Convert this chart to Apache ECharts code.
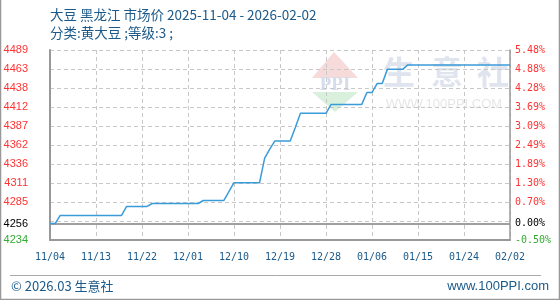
<!DOCTYPE html>
<html><head><meta charset="utf-8">
<script src="https://cdn.jsdelivr.net/npm/echarts@6/dist/echarts.min.js"></script>
<style>html,body{margin:0;padding:0;background:#fff}#c{width:560px;height:300px}</style>
</head><body><div id="c"></div>
<script>
const titleText = '大豆 黑龙江 市场价 2025-11-04 - 2026-02-02';
const subtitleText = '分类:黄大豆 ;等级:3 ;';
const footerLeft = '© 2026.03 生意社';
const footerRight = 'www.100PPI.com';

const dates = [
 '11/04','11/05','11/06','11/07','11/08','11/09','11/10','11/11','11/12','11/13','11/14','11/15','11/16','11/17','11/18','11/19','11/20','11/21','11/22','11/23','11/24','11/25','11/26','11/27','11/28','11/29','11/30',
 '12/01','12/02','12/03','12/04','12/05','12/06','12/07','12/08','12/09','12/10','12/11','12/12','12/13','12/14','12/15','12/16','12/17','12/18','12/19','12/20','12/21','12/22','12/23','12/24','12/25','12/26','12/27','12/28','12/29','12/30','12/31',
 '01/01','01/02','01/03','01/04','01/05','01/06','01/07','01/08','01/09','01/10','01/11','01/12','01/13','01/14','01/15','01/16','01/17','01/18','01/19','01/20','01/21','01/22','01/23','01/24','01/25','01/26','01/27','01/28','01/29','01/30','01/31',
 '02/01','02/02'
];

const prices = [
 4256,4256,4267,4267,4267,4267,4267,4267,4267,4267,4267,4267,4267,4267,4267,4279,4279,4279,4279,4279,4283,4283,4283,4283,4283,4283,4283,
 4283,4283,4283,4287,4287,4287,4287,4287,4299,4311,4311,4311,4311,4311,4311,4344,4356,4367,4367,4367,4367,4385,4404,4404,4404,4404,4404,4404,4416,4416,4416,
 4416,4416,4416,4416,4432,4432,4444,4444,4463,4463,4463,4463,4469,4469,4469,4469,4469,4469,4469,4469,4469,4469,4469,4469,4469,4469,4469,4469,4469,4469,4469,
 4469,4469
];

const axisMinPrice = 4234;
const axisMaxPrice = 4489;
const basePrice = 4256;
const priceTickLabels = ['4234','','4285','4311','4336','4362','4387','4412','4438','4463','4489'];
const pctTickLabels = ['-0.50%','','0.70%','1.30%','1.89%','2.49%','3.09%','3.69%','4.28%','4.88%','5.48%'];
const baseLabelLeft = '4256';
const baseLabelRight = '0.00%';

const span = axisMaxPrice - axisMinPrice;
const step = span / 10;
const RED = '#ff3333', GREEN = '#33aa33', BLUE_TXT = '#1b5a8a';
const idxOf = v => Math.round(v / step);
const tickColor = v => idxOf(v) === 0 ? GREEN : RED;
const dash = [4, 3];

const chart = echarts.init(document.getElementById('c'), null, {renderer: 'canvas'});
chart.setOption({
  animation: false,
  backgroundColor: '#fff',
  grid: {left: 50, right: 50, top: 50, bottom: 60, containLabel: false},
  xAxis: {
    type: 'category', data: dates, boundaryGap: false,
    axisLine: {show: true, lineStyle: {color: '#999', width: 2}},
    axisTick: {show: false},
    axisLabel: {interval: 8, color: BLUE_TXT, fontFamily: 'DejaVu Sans Mono', fontSize: 10, margin: 12},
    splitLine: {show: true, interval: 8, lineStyle: {color: '#c8c8c8', type: dash, width: 1}}
  },
  yAxis: [{
    type: 'value', min: 0, max: span, interval: step, position: 'left',
    axisLine: {show: true, lineStyle: {color: '#999', width: 2}},
    axisTick: {show: false},
    axisLabel: {margin: 22, fontFamily: 'Liberation Sans', fontSize: 11,
      formatter: v => priceTickLabels[idxOf(v)] || '', color: v => tickColor(v)},
    splitLine: {show: true, lineStyle: {color: '#c8c8c8', type: dash, width: 1}}
  }, {
    type: 'value', min: 0, max: span, interval: step, position: 'right',
    axisLine: {show: true, lineStyle: {color: '#999', width: 1.5}},
    axisTick: {show: false},
    axisLabel: {margin: 5, fontFamily: 'DejaVu Sans Mono', fontSize: 10,
      formatter: v => pctTickLabels[idxOf(v)] || '', color: v => tickColor(v)},
    splitLine: {show: false}
  }],
  graphic: [
    {type: 'text', left: 50, top: 8, z: 10, style: {text: titleText, fill: BLUE_TXT, font: '13.5px "Noto Sans CJK SC"'}},
    {type: 'text', left: 50, top: 26, z: 10, style: {text: subtitleText, fill: BLUE_TXT, font: '13.5px "Noto Sans CJK SC"'}},
    // watermark logo
    {type: 'polygon', z: -1, shape: {points: [[334,52],[312,78],[358,78]]}, style: {fill: '#f7dada'}},
    {type: 'polygon', z: -1, shape: {points: [[312,92],[358,92],[335,112]]}, style: {fill: '#d9f0dc'}},
    {type: 'text', z: -1, x: 335, y: 85, style: {text: 'PPI', fill: '#d5dceb', font: 'bold 19px "Liberation Serif"', align: 'center', verticalAlign: 'middle'}},
    {type: 'text', z: -1, x: 399, y: 72, style: {text: '生', fill: '#dfe4ee', font: 'bold 32px "Noto Sans CJK SC"', align: 'center', verticalAlign: 'middle'}},
    {type: 'text', z: -1, x: 447, y: 72, style: {text: '意', fill: '#dfe4ee', font: 'bold 32px "Noto Sans CJK SC"', align: 'center', verticalAlign: 'middle'}},
    {type: 'text', z: -1, x: 493, y: 72, style: {text: '社', fill: '#dfe4ee', font: 'bold 32px "Noto Sans CJK SC"', align: 'center', verticalAlign: 'middle'}},
    {type: 'text', z: -1, x: 444, y: 104, style: {text: 'WWW.100PPI.COM', fill: '#e6e6e6', font: '13px "Liberation Sans"', align: 'center', verticalAlign: 'middle'}},
    // footer
    {type: 'line', shape: {x1: 10, y1: 275.5, x2: 541, y2: 275.5}, style: {stroke: '#aaa', lineWidth: 1}},
    {type: 'text', x: 11, y: 286, style: {text: footerLeft, fill: BLUE_TXT, font: '13px "Noto Sans CJK SC"', verticalAlign: 'middle'}},
    {type: 'text', x: 549, y: 286, style: {text: footerRight, fill: BLUE_TXT, font: '13px "Liberation Sans"', align: 'right', verticalAlign: 'middle'}},
    // outer border
    {type: 'polyline', shape: {points: [[0.5,0],[0.5,299.5],[559.5,299.5],[559.5,0]]}, style: {stroke: '#999', lineWidth: 1.5, fill: null}}
  ],
  series: [{
    type: 'line', yAxisIndex: 0, xAxisIndex: 0,
    data: prices.map(p => p - axisMinPrice),
    showSymbol: false, symbol: 'none', smooth: false,
    lineStyle: {color: '#3b9bd8', width: 1.5},
    z: 5,
    markLine: {
      silent: true, symbol: ['none', 'none'],
      lineStyle: {color: '#999', type: 'solid', width: 1.5},
      data: [
        {yAxis: basePrice - axisMinPrice, label: {show: true, position: 'start', distance: 22, formatter: baseLabelLeft, color: '#000', fontFamily: 'Liberation Sans', fontSize: 11}},
        {yAxis: basePrice - axisMinPrice, label: {show: true, position: 'end', distance: 5, formatter: baseLabelRight, color: '#000', fontFamily: 'DejaVu Sans Mono', fontSize: 10}}
      ]
    }
  }]
});
</script>
</body></html>
